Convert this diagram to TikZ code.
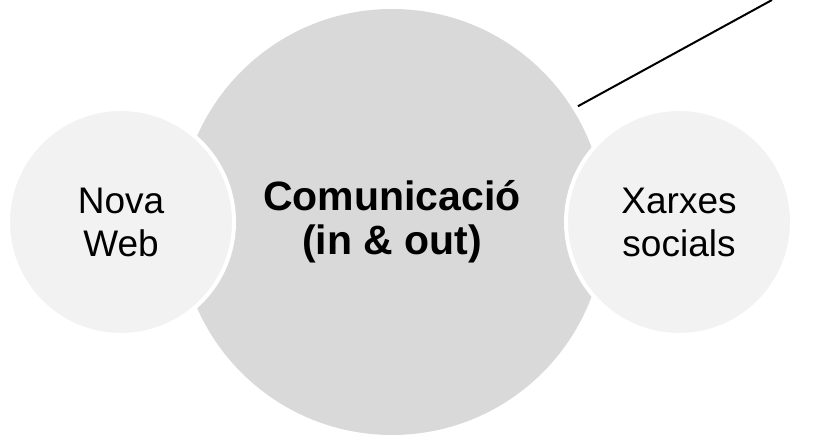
\documentclass[tikz,border=0pt]{standalone}
\usepackage{fontspec}
\setmainfont{Liberation Sans}
\usetikzlibrary{positioning}
\definecolor{coregray}{RGB}{217,217,217}
\definecolor{sidegray}{RGB}{242,242,242}
\tikzstyle{core} = [circle, minimum size=426bp, inner sep=0pt, outer sep=0pt, fill=coregray, align=center, font=\fontsize{41bp}{44bp}\selectfont\bfseries]
\tikzstyle{side} = [circle, minimum size=226bp, inner sep=0pt, outer sep=0pt, fill=sidegray, draw=white, line width=4bp, align=center, font=\fontsize{37bp}{43bp}\selectfont]
\tikzstyle{leader} = [line width=2bp, black, shorten <=6bp]

\begin{document}
\begin{tikzpicture}[x=1bp, y=1bp]
        \useasboundingbox (0,0) rectangle (821,440);

        \node[core]                        (comm)   at (392,218) {Comunicació\\(in \& out)};
        \node[side, left=-55bp of comm]    (web)    {Nova\\Web};
        \node[side, right=-39bp of comm]   (social) {Xarxes\\socials};
        \coordinate                        (tip)    at (772,440);

        \draw[leader] (comm.32) -- (tip);
\end{tikzpicture}
\end{document}
